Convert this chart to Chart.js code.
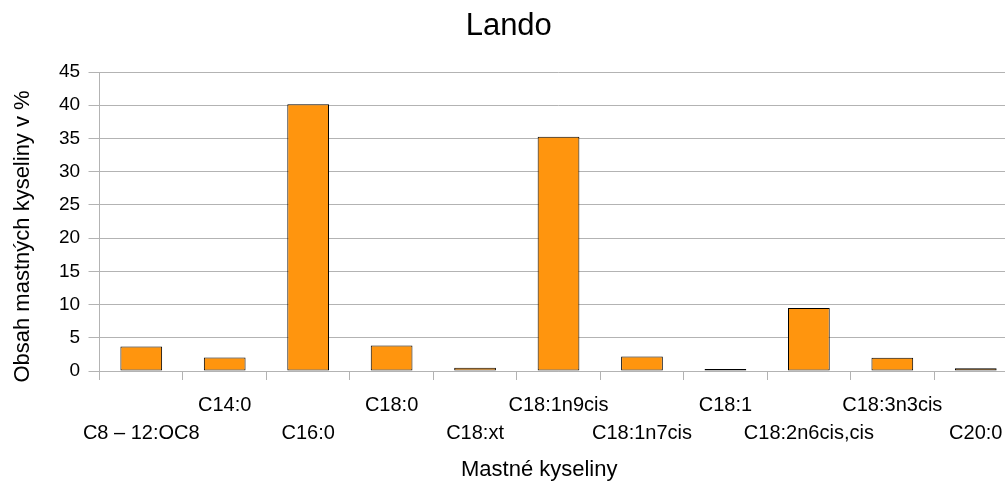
<!DOCTYPE html>
<html lang="cs">
<head>
<meta charset="utf-8">
<title>Lando</title>
<script src="https://cdn.jsdelivr.net/npm/chart.js@4/dist/chart.umd.min.js"></script>
<style>
  html, body { margin: 0; padding: 0; background: #ffffff; overflow: hidden; }
  #wrap { width: 1022px; height: 484px; }
</style>
</head>
<body>
<div id="wrap"><canvas id="chart" width="1022" height="484"></canvas></div>
<script>
// Fatty acid categories on the x axis
const categories = [
  'C8 – 12:OC8', 'C14:0', 'C16:0', 'C18:0', 'C18:xt', 'C18:1n9cis',
  'C18:1n7cis', 'C18:1', 'C18:2n6cis,cis', 'C18:3n3cis', 'C20:0'
];

// Content of each fatty acid in percent
const contents = [3.68, 2.02, 40.15, 3.83, 0.5, 35.25, 2.17, 0.06, 9.5, 2.0, 0.42];

// Y axis range and step
const yMin = 0;
const yMax = 45;
const yStep = 5;

const chartTitle = 'Lando';
const xTitle = 'Mastné kyseliny';
const yTitle = 'Obsah mastných kyseliny v %';

// Alternate the labels between two rows so the long names do not collide
const staggeredLabels = categories.map((c, i) => (i % 2 === 0 ? ['', c] : [c, '']));

const FONT = "'Liberation Sans', Arial, sans-serif";
const GRID = '#b3b3b3';
const TITLE_FONT = { family: FONT, size: 22, lineHeight: 1.2 };

// Axis titles: the scales reserve the room, this plugin paints the text
// slightly off the plot centre, as in the original spreadsheet layout.
const axisTitles = {
  id: 'axisTitles',
  afterDraw(chart) {
    const { ctx, chartArea } = chart;
    ctx.save();
    ctx.fillStyle = '#000000';
    ctx.font = `${TITLE_FONT.size}px ${FONT}`;
    ctx.textAlign = 'center';
    ctx.textBaseline = 'middle';
    const xs = chart.scales.x;
    ctx.fillText(xTitle, chartArea.left + chartArea.width * 0.479, xs.bottom - 1 - TITLE_FONT.size * 0.6);
    ctx.translate(23, chartArea.top + chartArea.height * 0.55);
    ctx.rotate(-Math.PI / 2);
    ctx.fillText(yTitle, 0, 0);
    ctx.restore();
  }
};

new Chart(document.getElementById('chart'), {
  type: 'bar',
  data: {
    labels: staggeredLabels,
    datasets: [{
      label: yTitle,
      data: contents,
      backgroundColor: '#ff950e',
      borderColor: '#000000',
      borderWidth: 1,
      borderSkipped: false,
      minBarLength: 2,
      barPercentage: 0.5,
      categoryPercentage: 1.0
    }]
  },
  plugins: [axisTitles],
  options: {
    responsive: false,
    animation: false,
    devicePixelRatio: 1,
    layout: { padding: { left: 0, right: 4.5, top: 0, bottom: 0 } },
    plugins: {
      legend: { display: false },
      tooltip: { enabled: false },
      title: {
        display: true,
        text: chartTitle,
        color: '#000000',
        font: { family: FONT, size: 31, weight: 'normal', lineHeight: 1.2 },
        padding: { top: 8, bottom: 26.8 }
      }
    },
    scales: {
      x: {
        grid: {
          display: true,
          drawOnChartArea: false,
          drawTicks: true,
          tickLength: 9,
          color: GRID,
          offset: true
        },
        border: { display: true, color: GRID, width: 1 },
        ticks: {
          color: '#000000',
          font: { family: FONT, size: 20, lineHeight: 1.425 },
          padding: 11,
          maxRotation: 0,
          minRotation: 0,
          autoSkip: false
        },
        title: {
          display: true,
          text: xTitle,
          color: 'rgba(0,0,0,0)',
          font: TITLE_FONT,
          padding: { top: -2.4, bottom: 1 }
        }
      },
      y: {
        min: yMin,
        max: yMax,
        grid: {
          color: GRID,
          drawTicks: true,
          tickLength: 11
        },
        border: { display: true, color: GRID, width: 1 },
        ticks: {
          stepSize: yStep,
          color: '#000000',
          font: { family: FONT, size: 19 },
          padding: 8.5
        },
        title: {
          display: true,
          text: yTitle,
          color: 'rgba(0,0,0,0)',
          font: TITLE_FONT,
          padding: { top: 12.5, bottom: 11.5 }
        }
      }
    }
  }
});
</script>
</body>
</html>
